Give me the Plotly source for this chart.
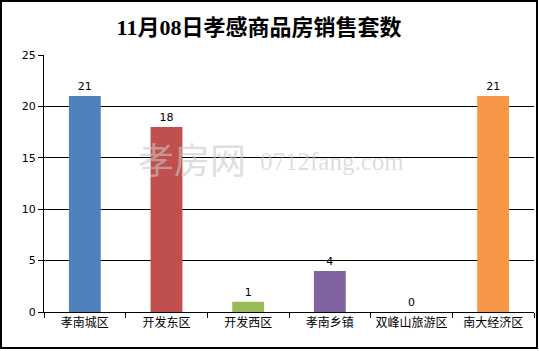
import plotly.graph_objects as go

categories = ["孝南城区", "开发东区", "开发西区", "孝南乡镇", "双峰山旅游区", "南大经济区"]
values = [21, 18, 1, 4, 0, 21]
colors = ["#4F81BD", "#C0504D", "#9BBB59", "#8064A2", "#4BACC6", "#F79646"]
y_ticks = [0, 5, 10, 15, 20, 25]
title_text = "11月08日孝感商品房销售套数"

fig = go.Figure(go.Bar(
    x=categories, y=values, marker=dict(color=colors, line=dict(width=0)),
    text=[str(v) for v in values], textposition="outside",
    textfont=dict(size=11, color="black", family="DejaVu Sans"),
    cliponaxis=False, width=0.39,
))

W, H = 539, 351
L, R, T, B = 44, 5, 55, 39
pw, ph = W - L - R, H - T - B

def px(x):
    return (x - L) / pw

def py(y):
    return (H - B - y) / ph

fig.update_layout(
    width=W, height=H, margin=dict(l=L, r=R, t=T, b=B),
    paper_bgcolor="white", plot_bgcolor="white", showlegend=False,
    title=dict(text="<b>" + title_text + "</b>", x=px(259), xref="paper", xanchor="center",
               y=1 - 27 / H, yanchor="middle",
               font=dict(size=22, color="black", family="Liberation Serif, Noto Sans CJK SC")),
    xaxis=dict(showline=True, linecolor="black", linewidth=1, ticks="outside", tickson="boundaries",
               ticklen=5, tickcolor="black", tickfont=dict(size=12, color="black", family="Noto Sans CJK SC"),
               showgrid=False),
    yaxis=dict(range=[0, 25], tickvals=y_ticks, showline=True, linecolor="black", linewidth=1,
               ticks="outside", ticklen=5, tickcolor="black", showgrid=True, gridcolor="black", gridwidth=1,
               tickfont=dict(size=11, color="black", family="DejaVu Sans"), zeroline=False),
    shapes=[dict(type="rect", xref="paper", yref="paper", x0=px(1), x1=px(537), y0=py(348), y1=py(1),
                 line=dict(color="black", width=2), fillcolor="rgba(0,0,0,0)", layer="above")],
    annotations=[
        dict(text="孝房网", xref="paper", yref="paper", x=px(192), y=py(158), xanchor="center",
             yanchor="middle", showarrow=False,
             font=dict(size=36, color="rgba(200,200,200,0.6)", family="Noto Sans CJK SC")),
        dict(text="0712fang.com", xref="paper", yref="paper", x=px(332), y=py(161), xanchor="center",
             yanchor="middle", showarrow=False,
             font=dict(size=25, color="rgba(200,200,200,0.6)", family="Liberation Serif")),
    ],
)

fig.write_html("out.html")
